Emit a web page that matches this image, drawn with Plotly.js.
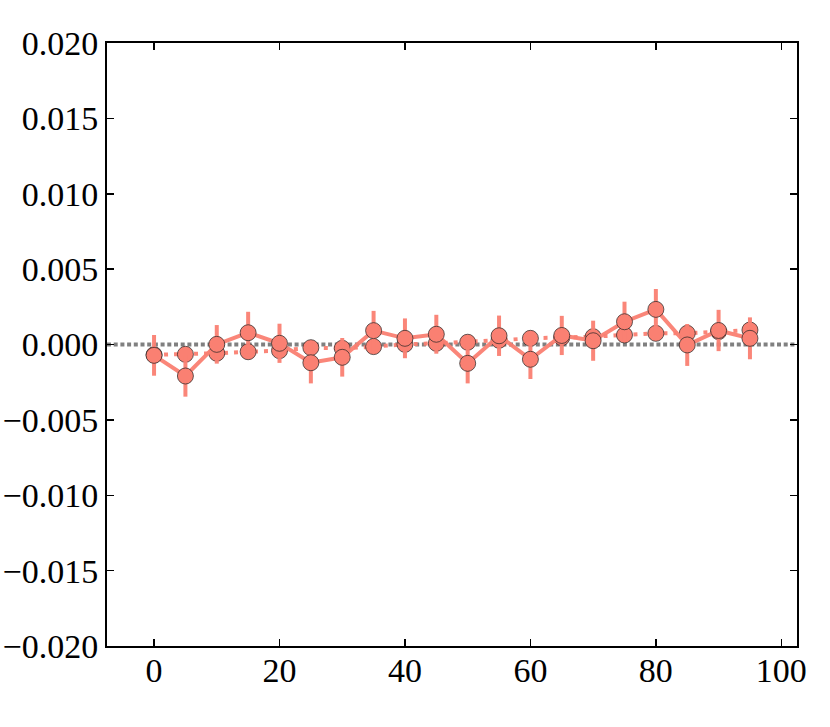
<!DOCTYPE html>
<html>
<head>
<meta charset="utf-8">
<script src="https://cdn.plot.ly/plotly-3.0.1.min.js"></script>
<style>html,body{margin:0;padding:0;background:#fff;}#chart{width:830px;height:727px;}</style>
</head>
<body>
<div id="chart"></div>
<script>
// x positions
const xValues = [0, 5, 10, 15, 20, 25, 30, 35, 40, 45, 50, 55, 60, 65, 70, 75, 80, 85, 90, 95];
// solid series (with error bars)
const solidValues = [-0.00072, -0.00209, 0.00001, 0.00078, 0.00008, -0.00121, -0.00085, 0.00092, 0.00041, 0.00068,
                     -0.00125, 0.00058, -0.00098, 0.00060, 0.00025, 0.00151, 0.00233, -0.00003, 0.00093, 0.00041];
const solidErrors = [0.00135, 0.00137, 0.00128, 0.00139, 0.00130, 0.00137, 0.00128, 0.00131, 0.00132, 0.00129,
                     0.00133, 0.00134, 0.00131, 0.00130, 0.00133, 0.00133, 0.00135, 0.00139, 0.00137, 0.00139];
// dotted series
const dottedValues = [-0.00068, -0.00065, -0.00058, -0.00048, -0.00041, -0.00021, -0.00025, -0.00014, 0.00001, 0.00008,
                      0.00015, 0.00028, 0.00041, 0.00046, 0.00052, 0.00063, 0.00074, 0.00074, 0.00085, 0.00096];
const referenceY = 0;
const xTicks = [0, 20, 40, 60, 80, 100];
const yTicks = [-0.020, -0.015, -0.010, -0.005, 0.000, 0.005, 0.010, 0.015, 0.020];

const salmon = '#FA8072';
const lineColor = 'rgba(250,128,114,0.95)';

const traces = [
  {
    x: xValues, y: dottedValues, type: 'scatter', mode: 'lines+markers',
    line: {color: lineColor, width: 4, dash: '4px,6px'},
    marker: {size: 16, color: salmon, line: {color: '#222', width: 0.7}},
    hoverinfo: 'skip'
  },
  {
    x: xValues, y: solidValues, type: 'scatter', mode: 'lines+markers',
    line: {color: lineColor, width: 4},
    marker: {size: 16, color: salmon, line: {color: '#222', width: 0.7}},
    error_y: {type: 'data', array: solidErrors, visible: true, color: lineColor, thickness: 4, width: 0},
    hoverinfo: 'skip'
  }
];

const tickFont = {family: '"Liberation Serif", "DejaVu Serif", serif', size: 34, color: '#000'};

const layout = {
  width: 830, height: 727,
  margin: {l: 107, r: 33, t: 43, b: 81},
  paper_bgcolor: '#fff', plot_bgcolor: '#fff',
  showlegend: false,
  xaxis: {
    range: [-7.5, 102.5], tickvals: xTicks, ticktext: xTicks.map(String),
    ticks: 'inside', ticklen: 7, tickwidth: 1.5, tickcolor: '#000',
    showline: true, linecolor: '#000', linewidth: 2, mirror: 'ticks',
    showgrid: false, zeroline: false, tickfont: tickFont, ticklabelstandoff: -7
  },
  yaxis: {
    range: [-0.020, 0.020], tickvals: yTicks, tickformat: '.3f',
    ticks: 'inside', ticklen: 7, tickwidth: 1.5, tickcolor: '#000',
    showline: true, linecolor: '#000', linewidth: 2, mirror: 'ticks',
    showgrid: false, zeroline: false, tickfont: tickFont
  },
  shapes: [{
    type: 'line', xref: 'paper', x0: 0, x1: 1, yref: 'y', y0: referenceY, y1: referenceY,
    line: {color: '#808080', width: 4, dash: '4px,2.7px'}, layer: 'below'
  }]
};

Plotly.newPlot('chart', traces, layout, {displayModeBar: false, staticPlot: true});
</script>
</body>
</html>
